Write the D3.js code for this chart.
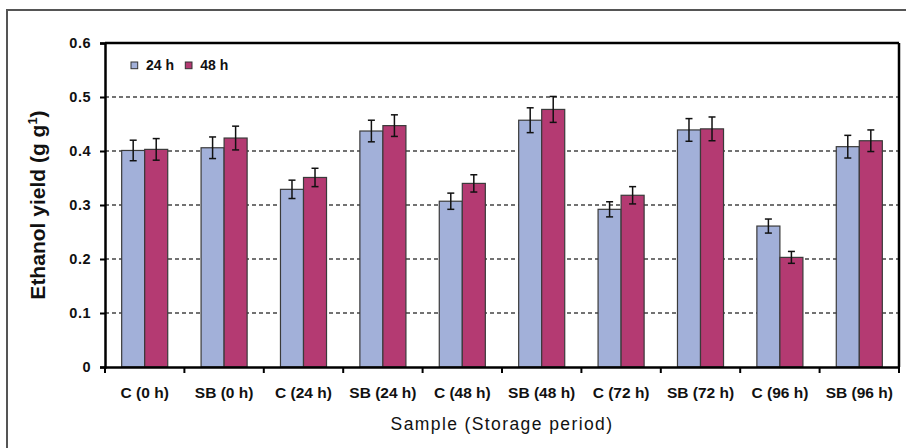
<!DOCTYPE html>
<html><head><meta charset="utf-8">
<script src="https://cdn.jsdelivr.net/npm/d3@7"></script>
<style>
body{margin:0;background:#fff;}
svg text{font-family:"Liberation Sans",Arial,sans-serif;}
</style></head>
<body><svg id="c" width="906" height="448"></svg>
<script>
const categories = ["C (0 h)","SB (0 h)","C (24 h)","SB (24 h)","C (48 h)","SB (48 h)","C (72 h)","SB (72 h)","C (96 h)","SB (96 h)"];
const seriesNames = ["24 h","48 h"];
const yield24 = [0.401,0.406,0.329,0.437,0.307,0.457,0.292,0.439,0.261,0.408];
const yield48 = [0.403,0.424,0.351,0.447,0.340,0.477,0.318,0.441,0.203,0.419];
const err24 = [0.019,0.020,0.017,0.020,0.015,0.023,0.014,0.021,0.013,0.021];
const err48 = [0.020,0.022,0.017,0.020,0.016,0.024,0.016,0.022,0.011,0.020];
const yTicks = [0,0.1,0.2,0.3,0.4,0.5,0.6];
const colors = ["#A2B0D9","#B43A72"];

const svg = d3.select("#c");
const L=105,R=899,T=43,B=367;

// outer border
svg.append("rect").attr("x",7).attr("y",10).attr("width",920).attr("height",460)
  .attr("fill","none").attr("stroke","#555").attr("stroke-width",2);

const x = d3.scaleBand().domain(categories).range([L,R]).paddingInner(0.42).paddingOuter(0.21);
const xs = d3.scaleBand().domain(seriesNames).range([0,x.bandwidth()]);
const y = d3.scaleLinear().domain([0,0.6]).range([B,T]);

// gridlines
svg.append("g").selectAll("line").data(yTicks.filter(d=>d>0&&d<0.6)).join("line")
  .attr("x1",L).attr("x2",R).attr("y1",d=>y(d)).attr("y2",d=>y(d))
  .attr("stroke","#444").attr("stroke-width",1.3).attr("stroke-dasharray","4,3");

const data = categories.map((c,i)=>({c, vals:[
  {s:seriesNames[0],v:yield24[i],e:err24[i],col:colors[0]},
  {s:seriesNames[1],v:yield48[i],e:err48[i],col:colors[1]}]}));

const g = svg.append("g").selectAll("g").data(data).join("g")
  .attr("transform",d=>`translate(${x(d.c)},0)`);
g.selectAll("rect").data(d=>d.vals).join("rect")
  .attr("x",d=>xs(d.s)).attr("width",xs.bandwidth())
  .attr("y",d=>y(d.v)).attr("height",d=>y(0)-y(d.v))
  .attr("fill",d=>d.col).attr("stroke","#3a3a3a").attr("stroke-width",1.2);
const eb = g.selectAll("g.eb").data(d=>d.vals).join("g").attr("class","eb")
  .attr("transform",d=>`translate(${xs(d.s)+xs.bandwidth()/2},0)`);
eb.append("line").attr("y1",d=>y(d.v-d.e)).attr("y2",d=>y(d.v+d.e)).attr("stroke","#111").attr("stroke-width",1.5);
eb.append("line").attr("x1",-3.5).attr("x2",3.5).attr("y1",d=>y(d.v+d.e)).attr("y2",d=>y(d.v+d.e)).attr("stroke","#111").attr("stroke-width",1.5);
eb.append("line").attr("x1",-3.5).attr("x2",3.5).attr("y1",d=>y(d.v-d.e)).attr("y2",d=>y(d.v-d.e)).attr("stroke","#111").attr("stroke-width",1.5);

// frame top/right
svg.append("line").attr("x1",L).attr("x2",R).attr("y1",T).attr("y2",T).attr("stroke","#000").attr("stroke-width",2.5);
svg.append("line").attr("x1",R).attr("x2",R).attr("y1",T).attr("y2",B).attr("stroke","#000").attr("stroke-width",2.5);

// y axis
const ya = svg.append("g").attr("transform",`translate(${L},0)`)
  .call(d3.axisLeft(y).tickValues(yTicks).tickFormat(d=>d===0?"0":d3.format(".1f")(d)).tickSize(5).tickPadding(9));
ya.select(".domain").attr("stroke","#000").attr("stroke-width",2.5);
ya.selectAll(".tick line").attr("stroke","#000").attr("stroke-width",2);
ya.selectAll("text").attr("font-size",14.5).attr("font-weight","bold").attr("fill","#111")
  .attr("letter-spacing",0.5).style("font-family","'Liberation Sans',Arial,sans-serif");

// x axis
const xa = svg.append("g").attr("transform",`translate(0,${B})`)
  .call(d3.axisBottom(x).tickSize(0).tickPadding(0));
xa.select(".domain").attr("stroke","#000").attr("stroke-width",2.5);
xa.selectAll("text").attr("font-size",15.5).attr("font-weight","bold").attr("fill","#111")
  .style("font-family","'Liberation Sans',Arial,sans-serif").attr("y",31).attr("dy",0);
// boundary ticks
const bounds = categories.map(c=>x(c)-x.step()*x.paddingInner()/2).concat([R]);
svg.append("g").selectAll("line").data(bounds).join("line")
  .attr("x1",d=>d).attr("x2",d=>d).attr("y1",B).attr("y2",B+6).attr("stroke","#000").attr("stroke-width",2);

// axis titles
svg.append("text").attr("x",(L+R)/2).attr("y",429.5).attr("text-anchor","middle")
  .attr("font-size",17.5).attr("letter-spacing",1.4).attr("fill","#111").text("Sample (Storage period)");
const yt = svg.append("text").attr("transform",`translate(44.5,${(T+B)/2}) rotate(-90)`)
  .attr("text-anchor","middle").attr("font-size",21).attr("font-weight","bold").attr("fill","#111");
yt.append("tspan").text("Ethanol yield (g g");
yt.append("tspan").attr("dy",-8).attr("font-size",13).text("1");
yt.append("tspan").attr("dy",8).text(")");

// legend
const lg = svg.append("g").attr("transform","translate(131,62)");
const li = lg.selectAll("g").data(seriesNames).join("g").attr("transform",(d,i)=>`translate(${i*54.3},0)`);
li.append("rect").attr("width",6.7).attr("height",6.7).attr("fill",(d,i)=>colors[i]).attr("stroke","#333").attr("stroke-width",1);
li.append("text").attr("x",15).attr("y",8).attr("font-size",14).attr("font-weight","bold").attr("fill","#111")
  .style("font-family","'Liberation Sans',Arial,sans-serif").text(d=>d);
</script></body></html>
